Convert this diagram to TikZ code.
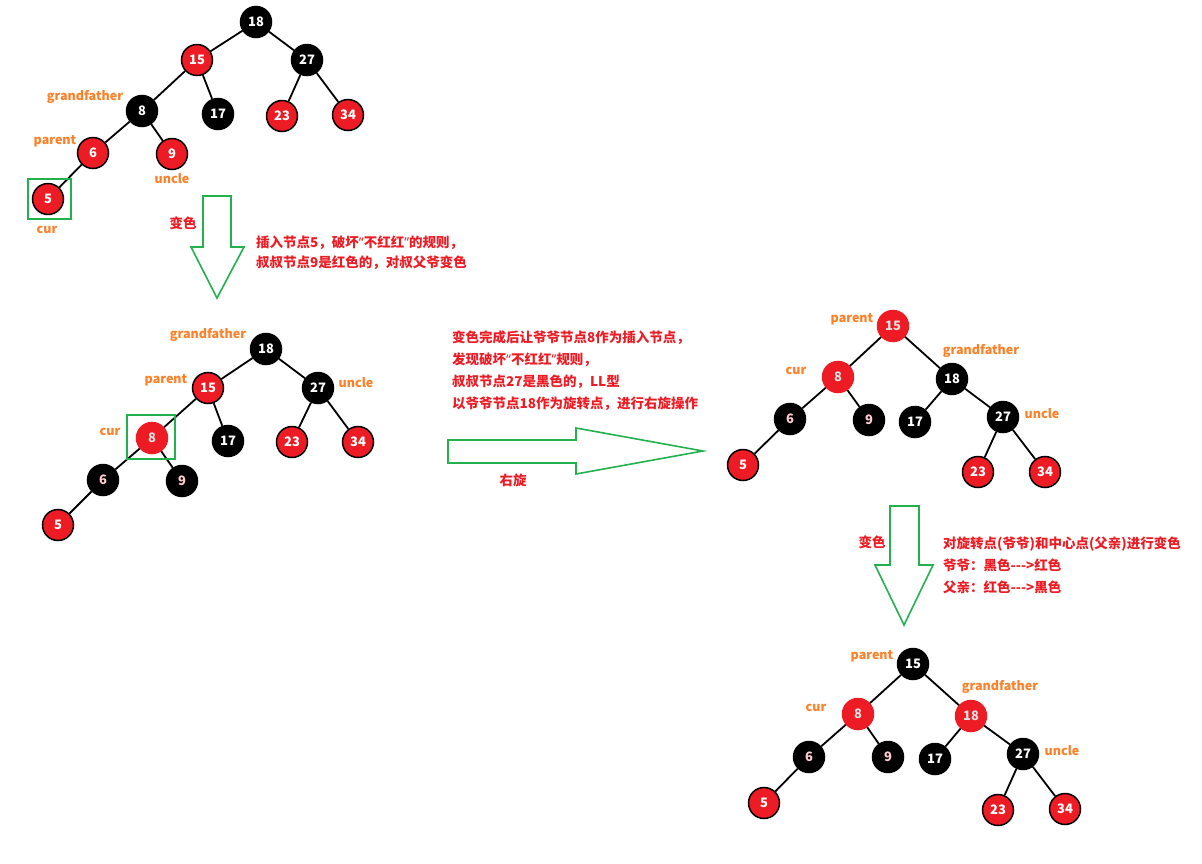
\documentclass[tikz,border=0pt]{standalone}
\usepackage{fontspec}
\newfontfamily\cjk{Noto Sans CJK SC}
\newfontfamily\lat{Noto Sans}
\newcommand{\myLq}{{\lat\bfseries “}}
\newcommand{\myRq}{{\lat\bfseries ”}}
\definecolor{nred}{RGB}{237,28,36}
\definecolor{lorange}{RGB}{255,127,39}
\definecolor{tred}{RGB}{237,28,36}
\definecolor{agreen}{RGB}{34,177,76}
\definecolor{pinkt}{RGB}{255,205,210}
\tikzset{
  nd/.style={circle, minimum size=31pt, inner sep=0pt, line width=1.5pt, font=\cjk\bfseries\fontsize{13}{13}\selectfont},
  rn/.style={nd, fill=nred, draw=black, text=white},
  rf/.style={nd, fill=nred, draw=nred, text=white!88!black},
  bn/.style={nd, fill=black, draw=black, text=white},
  bp/.style={bn, text=pinkt},
  lab/.style={text=lorange, font=\cjk\bfseries\fontsize{12.5}{12.5}\selectfont, inner sep=0pt},
  note/.style={text=tred, font=\cjk\bfseries\fontsize{13.5}{22}\selectfont, align=left, anchor=west, inner sep=0pt},
  note1/.style={note, font=\cjk\bfseries\fontsize{13.5}{20}\selectfont},
  link/.style={line width=1.8pt, black},
  bigarrow/.style={draw=agreen, line width=1.6pt, line join=miter},
  gbox/.style={draw=agreen, line width=1.3pt}
}
\begin{document}
\begin{tikzpicture}[x=1pt,y=-1pt]
\useasboundingbox (0,0) rectangle (1202,863);

% ---------- Tree 1 ----------
\node[bn] (a18) at (256,22) {18};
\node[rn] (a15) at (197,60) {15};
\node[bn] (a27) at (307,60) {27};
\node[bn] (a8) at (142,111) {8};
\node[bn] (a17) at (218,114) {17};
\node[rn] (a23) at (282,116) {23};
\node[rn] (a34) at (348,115) {34};
\node[rn] (a6) at (93,153) {6};
\node[rn] (a9) at (172,154) {9};
\node[rn] (a5) at (48,199) {5};
\draw[link] (a18)--(a15); \draw[link] (a18)--(a27);
\draw[link] (a15)--(a8); \draw[link] (a15)--(a17);
\draw[link] (a27)--(a23); \draw[link] (a27)--(a34);
\draw[link] (a8)--(a6); \draw[link] (a8)--(a9);
\draw[link] (a6)--(a5);
\node[lab] (agf) at (85,97) {grandfather};
\node[lab] (apa) at (55,141) {parent};
\node[lab] (aun) at (172,179) {uncle};
\node[lab] (acu) at (47,230) {cur};
\draw[gbox] (28,179) rectangle (71,219);

% ---------- Arrow 1 ----------
\draw[bigarrow] (203,196) -- (231,196) -- (231,247) -- (244,247) -- (217,298) -- (191,247) -- (203,247) -- cycle;
\node[text=tred, font=\cjk\bfseries\fontsize{13.5}{13.5}\selectfont, inner sep=0pt] (c1) at (183,223) {变色};
\node[note1] (t1) at (256,253) {插入节点5，破坏\myLq 不红红\myRq 的规则，\\叔叔节点9是红色的，对叔父爷变色};

% ---------- Tree 2 ----------
\node[bn] (b18) at (266,349) {18};
\node[rn] (b15) at (208,388) {15};
\node[bn] (b27) at (318,388) {27};
\node[rf] (b8) at (152,438) {8};
\node[bn] (b17) at (228,441) {17};
\node[rn] (b23) at (292,442) {23};
\node[rn] (b34) at (358,442) {34};
\node[bp] (b6) at (103,480) {6};
\node[bp] (b9) at (182,481) {9};
\node[rn] (b5) at (58,525) {5};
\draw[link] (b18)--(b15); \draw[link] (b18)--(b27);
\draw[link] (b15)--(b8); \draw[link] (b15)--(b17);
\draw[link] (b27)--(b23); \draw[link] (b27)--(b34);
\draw[link] (b8)--(b6); \draw[link] (b8)--(b9);
\draw[link] (b6)--(b5);
\node[lab] (bgf) at (208,335) {grandfather};
\node[lab] (bpa) at (166,380) {parent};
\node[lab] (bun) at (356,383) {uncle};
\node[lab] (bcu) at (110,432) {cur};
\draw[gbox] (127,415) rectangle (175,459);

% ---------- Arrow 2 (right) ----------
\node[note] (t2) at (452,371) {变色完成后让爷爷节点8作为插入节点，\\发现破坏\myLq 不红红\myRq 规则，\\叔叔节点27是黑色的，LL型\\以爷爷节点18作为旋转点，进行右旋操作};
\draw[bigarrow] (448,440) -- (576,440) -- (576,428) -- (703,451) -- (576,474) -- (576,463) -- (448,463) -- cycle;
\node[text=tred, font=\cjk\bfseries\fontsize{13.5}{13.5}\selectfont, inner sep=0pt] (c2) at (513,480) {右旋};

% ---------- Tree 3 ----------
\node[rf] (c15) at (893,326) {15};
\node[rf] (c8) at (838,377) {8};
\node[bn] (c18) at (952,379) {18};
\node[bp] (c6) at (790,419) {6};
\node[bp] (c9) at (869,420) {9};
\node[bn] (c17) at (915,422) {17};
\node[bn] (c27) at (1003,417) {27};
\node[rn] (c5) at (743,465) {5};
\node[rn] (c23) at (978,472) {23};
\node[rn] (c34) at (1045,472) {34};
\draw[link] (c15)--(c8); \draw[link] (c15)--(c18);
\draw[link] (c8)--(c6); \draw[link] (c8)--(c9);
\draw[link] (c18)--(c17); \draw[link] (c18)--(c27);
\draw[link] (c6)--(c5);
\draw[link] (c27)--(c23); \draw[link] (c27)--(c34);
\node[lab] (cpa) at (852,319) {parent};
\node[lab] (cgf) at (981,351) {grandfather};
\node[lab] (ccu) at (796,371) {cur};
\node[lab] (cun) at (1042,414) {uncle};

% ---------- Arrow 3 ----------
\draw[bigarrow] (890,506) -- (919,506) -- (919,565) -- (933,565) -- (904,625) -- (875,565) -- (890,565) -- cycle;
\node[text=tred, font=\cjk\bfseries\fontsize{13.5}{13.5}\selectfont, inner sep=0pt] (c3) at (872,542) {变色};
\node[note] (t3) at (943,565) {对旋转点(爷爷)和中心点(父亲)进行变色\\爷爷：黑色{-}{-}{-}>红色\\父亲：红色{-}{-}{-}>黑色};

% ---------- Tree 4 ----------
\node[bn] (d15) at (913,664) {15};
\node[rf] (d8) at (858,714) {8};
\node[rf] (d18) at (971,716) {18};
\node[bp] (d6) at (809,757) {6};
\node[bp] (d9) at (888,757) {9};
\node[bn] (d17) at (935,759) {17};
\node[bn] (d27) at (1023,754) {27};
\node[rn] (d5) at (764,803) {5};
\node[rn] (d23) at (998,810) {23};
\node[rn] (d34) at (1065,809) {34};
\draw[link] (d15)--(d8); \draw[link] (d15)--(d18);
\draw[link] (d8)--(d6); \draw[link] (d8)--(d9);
\draw[link] (d18)--(d17); \draw[link] (d18)--(d27);
\draw[link] (d6)--(d5);
\draw[link] (d27)--(d23); \draw[link] (d27)--(d34);
\node[lab] (dpa) at (872,656) {parent};
\node[lab] (dgf) at (1000,687) {grandfather};
\node[lab] (dcu) at (816,708) {cur};
\node[lab] (dun) at (1062,751) {uncle};
\end{tikzpicture}
\end{document}
